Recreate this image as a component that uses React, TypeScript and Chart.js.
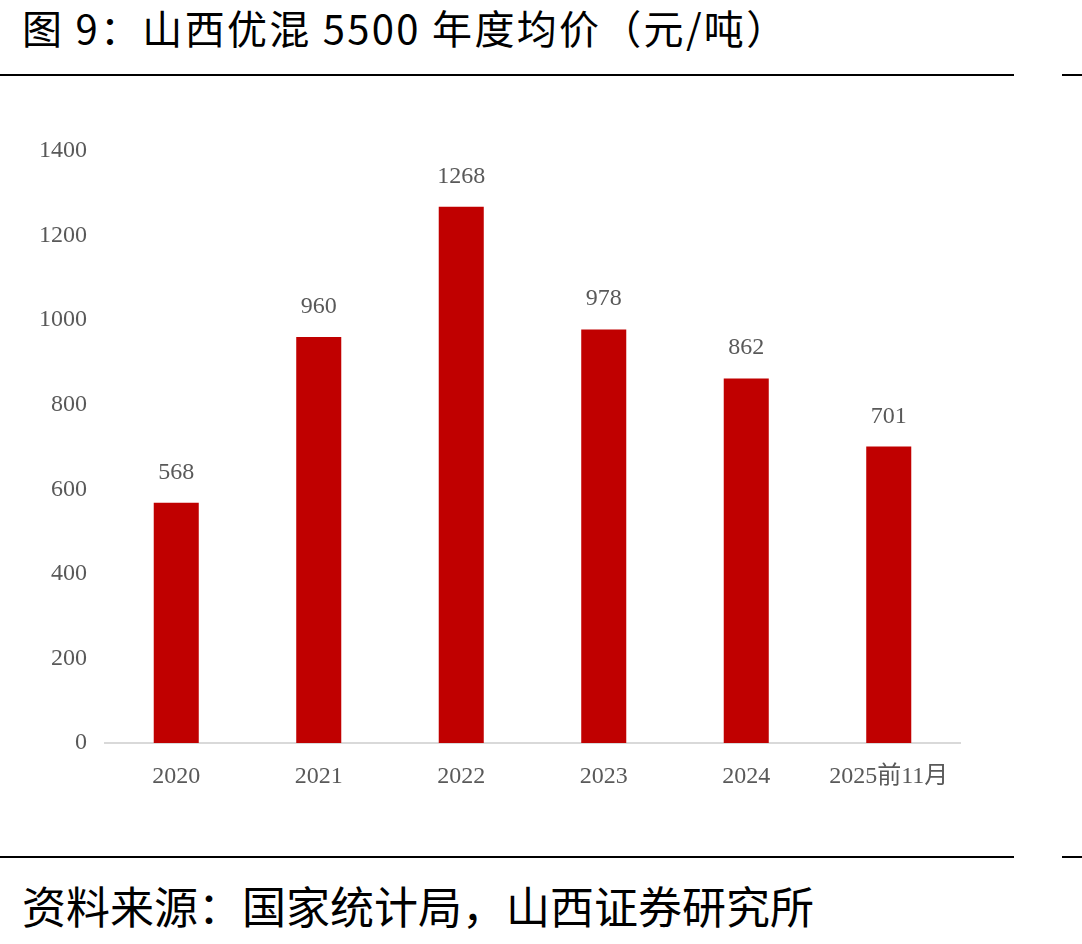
import React, { useEffect, useRef } from "react";
import { Chart, registerables } from "chart.js";

Chart.register(...registerables);

const categories = ["2020", "2021", "2022", "2023", "2024", "2025前11月"];
const prices = [568, 960, 1268, 978, 862, 701];
const yMin = 0;
const yMax = 1400;
const yStep = 200;

const TITLE = "图 9：山西优混 5500 年度均价（元/吨）";
const SOURCE = "资料来源：国家统计局，山西证券研究所";

const labelFont = "'Liberation Serif', 'Noto Sans CJK SC', serif";

const valueLabels = {
  id: "valueLabels",
  afterDatasetsDraw(chart: any) {
    const ctx = chart.ctx;
    const meta = chart.getDatasetMeta(0);
    ctx.save();
    ctx.font = `24px ${labelFont}`;
    ctx.fillStyle = "#595959";
    ctx.textAlign = "center";
    ctx.textBaseline = "alphabetic";
    meta.data.forEach((el: any, i: number) => {
      ctx.fillText(String(prices[i]), el.x, el.y - 24);
    });
    ctx.restore();
  },
};

export default function App() {
  const ref = useRef<HTMLCanvasElement | null>(null);
  useEffect(() => {
    if (!ref.current) return;
    const chart = new Chart(ref.current, {
      type: "bar",
      data: {
        labels: categories,
        datasets: [
          {
            data: prices,
            backgroundColor: "#C00000",
            categoryPercentage: 1,
            barPercentage: 0.316,
          },
        ],
      },
      options: {
        animation: false,
        responsive: false,
        maintainAspectRatio: false,
        layout: { padding: { left: 0, right: 122, top: 61, bottom: 0 } },
        plugins: { legend: { display: false }, tooltip: { enabled: false } },
        scales: {
          y: {
            min: yMin,
            max: yMax,
            ticks: {
              stepSize: yStep,
              color: "#595959",
              padding: 10,
              font: { family: labelFont, size: 24 },
              callback: (v: any) => String(v),
            },
            grid: { display: false },
            border: { display: false },
            afterFit: (s: any) => {
              s.width = 105;
            },
          },
          x: {
            ticks: {
              color: "#595959",
              padding: 11,
              maxRotation: 0,
              autoSkip: false,
              font: { family: labelFont, size: 24 },
            },
            grid: { display: false },
            border: { display: true, color: "#d9d9d9", width: 2 },
            afterFit: (s: any) => {
              s.height = 87;
            },
          },
        },
      },
      plugins: [valueLabels],
    });
    return () => chart.destroy();
  }, []);

  const cjk = "'Noto Sans CJK SC', 'Noto Sans', sans-serif";
  return (
    <div style={{ position: "absolute", left: 0, top: 0, width: 1082, height: 944, background: "#fff", overflow: "hidden" }}>
      <div style={{ position: "absolute", left: 22, top: 7, fontFamily: cjk, fontSize: 40, lineHeight: "40px", letterSpacing: 2.3, color: "#000", whiteSpace: "nowrap" }}>
        {TITLE}
      </div>
      <div style={{ position: "absolute", left: 0, top: 74, width: 1014, height: 2, background: "#000" }} />
      <div style={{ position: "absolute", left: 1062, top: 74, width: 20, height: 2, background: "#000" }} />
      <canvas ref={ref} width={1082} height={740} style={{ position: "absolute", left: 0, top: 90, width: 1082, height: 740 }} />
      <div style={{ position: "absolute", left: 0, top: 856, width: 1014, height: 2, background: "#000" }} />
      <div style={{ position: "absolute", left: 1062, top: 856, width: 20, height: 2, background: "#000" }} />
      <div style={{ position: "absolute", left: 22, top: 883, fontFamily: cjk, fontSize: 44, lineHeight: "44px", color: "#000", whiteSpace: "nowrap" }}>
        {SOURCE}
      </div>
    </div>
  );
}
